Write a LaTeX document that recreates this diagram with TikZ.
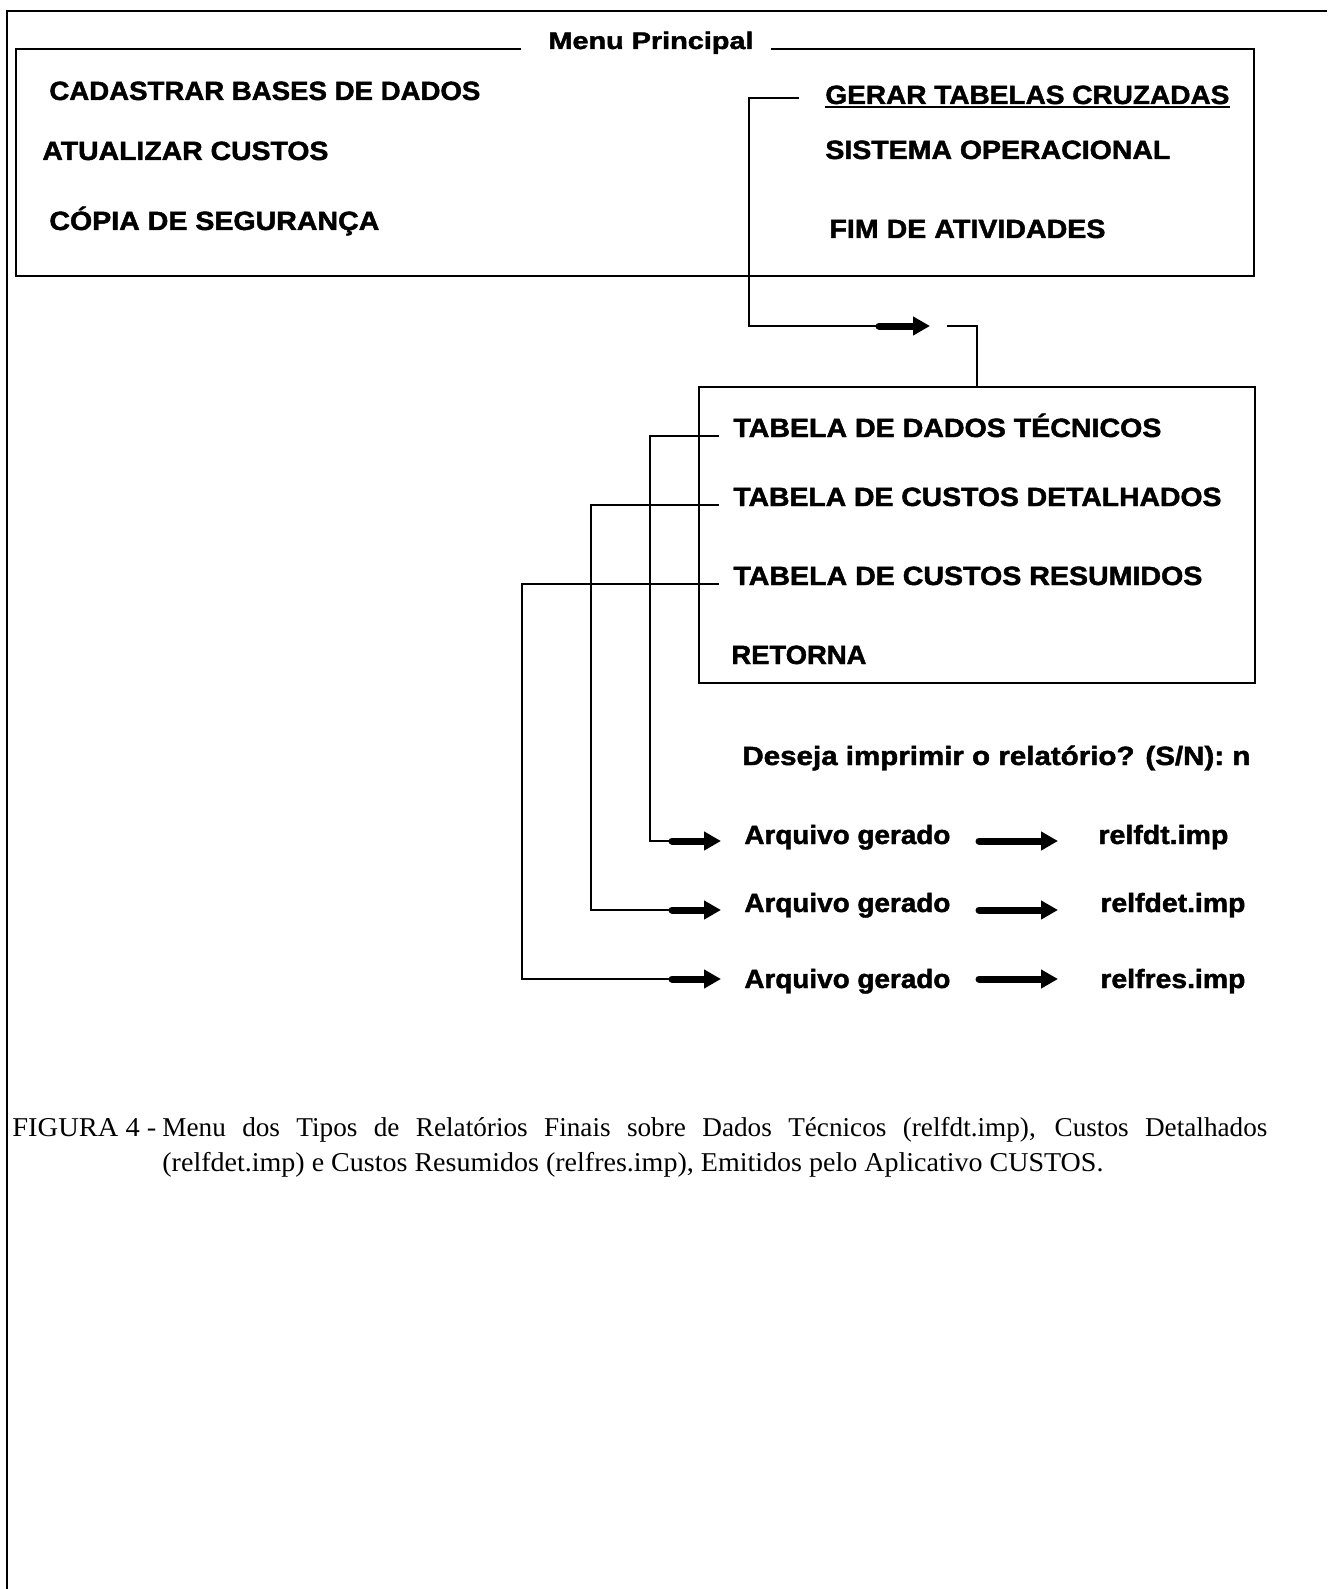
\documentclass[tikz,border=0pt]{standalone}
\usepackage{fontspec}
\setmainfont{Liberation Serif}
\setsansfont{Liberation Sans}
\newfontfamily\heavyfont{Liberation Sans}[BoldFeatures={FakeBold=1.6}]
\usetikzlibrary{arrows.meta}
\newcommand{\fitw}[2]{\resizebox{#1}{\height}{#2}}
\begin{document}
\begin{tikzpicture}[x=0.5pt,y=-0.5pt,
  frame/.style={line width=1pt},
  link/.style={line width=0.8pt},
  fat/.style={line width=3.5pt, line cap=round, -{Triangle[length=8.5pt,width=9pt]}},
  mtxt/.style={anchor=base west, inner sep=0pt, font=\heavyfont\bfseries\fontsize{13.2}{15}\selectfont},
  ttxt/.style={anchor=base, inner sep=0pt, font=\heavyfont\bfseries\fontsize{12}{14}\selectfont},
  ctxt/.style={anchor=base west, inner sep=0pt, font=\fontsize{13.6}{16}\selectfont}]
\useasboundingbox (0,0) rectangle (1327,1589);
% outer frame
\draw[frame] (1327,11) -- (7,11) -- (7,1589);
% main menu box
\node[ttxt] (title) at (651,49) {\fitw{102.5pt}{Menu Principal}};
\draw[frame] (521,49) -- (16,49) -- (16,276) -- (1254,276) -- (1254,49) -- (771,49);
\node[mtxt] (cad) at (49,100) {\fitw{215.5pt}{CADASTRAR BASES DE DADOS}};
\node[mtxt] (atu) at (42,160) {\fitw{143pt}{ATUALIZAR CUSTOS}};
\node[mtxt] (cop) at (49,230) {\fitw{165pt}{CÓPIA DE SEGURANÇA}};
\node[mtxt] (ger) at (825,104) {\fitw{202pt}{GERAR TABELAS CRUZADAS}};
\draw[line width=0.9pt] ([yshift=-1.6pt]ger.base west) -- ([yshift=-1.6pt]ger.base east);
\node[mtxt] (sis) at (825,159) {\fitw{172.5pt}{SISTEMA OPERACIONAL}};
\node[mtxt] (fim) at (829,238) {\fitw{138pt}{FIM DE ATIVIDADES}};
% sub menu box
\node[draw, frame, minimum width=278pt, minimum height=148pt, inner sep=0pt] (sub) at (977,535) {};
\node[mtxt] (t1) at (733,437) {\fitw{214pt}{TABELA DE DADOS TÉCNICOS}};
\node[mtxt] (t2) at (733,506) {\fitw{244pt}{TABELA DE CUSTOS DETALHADOS}};
\node[mtxt] (t3) at (733,585) {\fitw{234.5pt}{TABELA DE CUSTOS RESUMIDOS}};
\node[mtxt] (ret) at (731,664) {\fitw{67.5pt}{RETORNA}};
% connector main -> sub
\coordinate (gA) at (799,98);
\coordinate (gB) at (749,326);
\coordinate (gC) at (879,326);
\coordinate (gD) at (930,326);
\coordinate (gE) at (947,326);
\draw[link] (gA) -- (gA -| gB) -- (gB) -- (gC);
\draw[fat] (gC) -- (gD);
\draw[link] (gE) -| (sub.north);
% question
\node[mtxt] (des) at (742,765) {\fitw{254pt}{Deseja imprimir o relatório? (S/N): n}};
% output rows
\node[mtxt] (ag1) at (744,844) {\fitw{103pt}{Arquivo gerado}};
\node[mtxt] (ag2) at (744,912) {\fitw{103pt}{Arquivo gerado}};
\node[mtxt] (ag3) at (744,988) {\fitw{103pt}{Arquivo gerado}};
\node[mtxt] (f1) at (1098,844) {\fitw{65pt}{relfdt.imp}};
\node[mtxt] (f2) at (1100,912) {\fitw{72.5pt}{relfdet.imp}};
\node[mtxt] (f3) at (1100,988) {\fitw{72.5pt}{relfres.imp}};
% connectors from sub items
\coordinate (s1) at (719,436);
\coordinate (s2) at (719,505);
\coordinate (s3) at (719,584);
\coordinate (v1) at (650,841);
\coordinate (v2) at (591,910);
\coordinate (v3) at (522,979);
\coordinate (p1) at (672,841);
\coordinate (p2) at (672,910);
\coordinate (p3) at (672,979);
\coordinate (q1) at (721,841);
\coordinate (q2) at (721,910);
\coordinate (q3) at (721,979);
\draw[link] (s1) -- (s1 -| v1) -- (v1) -- (p1);
\draw[link] (s2) -- (s2 -| v2) -- (v2) -- (p2);
\draw[link] (s3) -- (s3 -| v3) -- (v3) -- (p3);
\draw[fat] (p1) -- (q1);
\draw[fat] (p2) -- (q2);
\draw[fat] (p3) -- (q3);
% arrows between text
\coordinate (r1) at (979,841);
\coordinate (r2) at (979,910);
\coordinate (r3) at (979,979);
\coordinate (e1) at (1058,841);
\coordinate (e2) at (1058,910);
\coordinate (e3) at (1058,979);
\draw[fat] (r1) -- (e1);
\draw[fat] (r2) -- (e2);
\draw[fat] (r3) -- (e3);
% caption
\node[ctxt] (fig) at (12,1136) {\fitw{72pt}{FIGURA 4 -}};
\node[ctxt] (cap1) at (162,1136) {\makebox[552.5pt][s]{Menu dos Tipos de Relatórios Finais sobre Dados Técnicos (relfdt.imp), Custos Detalhados}};
\node[ctxt] (cap2) at (162,1171) {\fitw{470.5pt}{(relfdet.imp) e Custos Resumidos (relfres.imp), Emitidos pelo Aplicativo CUSTOS.}};
\end{tikzpicture}
\end{document}
